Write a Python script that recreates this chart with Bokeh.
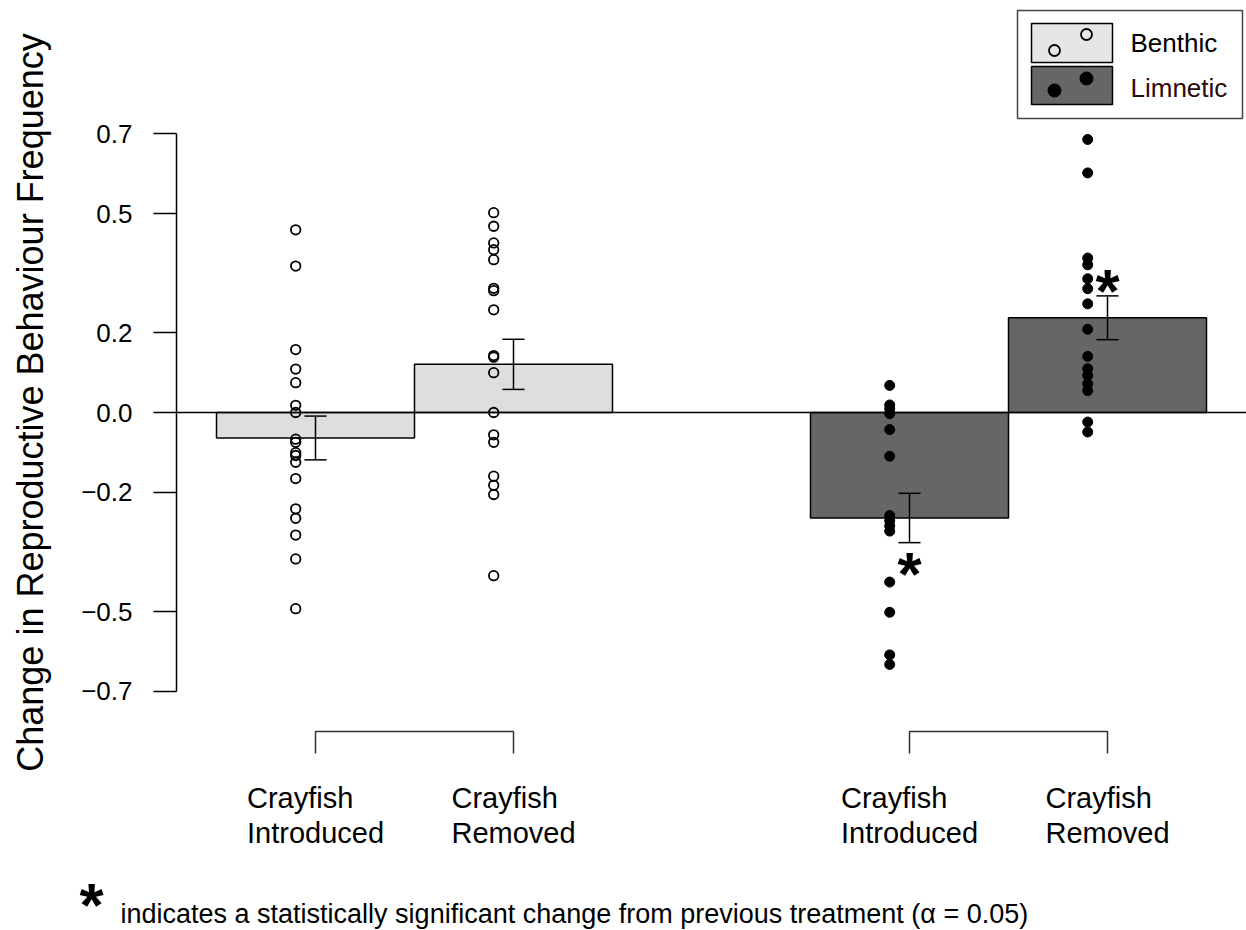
import math
from bokeh.plotting import figure
from bokeh.layouts import row, column
from bokeh.models import FixedTicker, Span, Range1d, CustomJSTickFormatter
from bokeh.core.properties import value
from bokeh.embed import file_html
from bokeh.resources import INLINE

# ---------------- data ----------------
groups = ["Benthic", "Limnetic"]
group_colors = ["#DEDEDE", "#666666"]
treatments = ["Crayfish\nIntroduced", "Crayfish\nRemoved"]

bar_x = [1.5, 2.5, 4.5, 5.5]
bar_group = [0, 0, 1, 1]
means = [-0.064, 0.121, -0.265, 0.238]
ses = [0.055, 0.063, 0.062, 0.055]
significant = [False, False, True, True]

pts_benthic_introduced = [0.459, 0.368, 0.158, 0.109, 0.075, 0.018, 0.0, -0.067, -0.075,
                          -0.101, -0.108, -0.125, -0.166, -0.242, -0.266, -0.308, -0.368, -0.493]
pts_benthic_removed = [0.502, 0.468, 0.426, 0.409, 0.384, 0.312, 0.306, 0.258, 0.143, 0.139,
                       0.100, 0.0, -0.056, -0.075, -0.160, -0.183, -0.206, -0.410]
pts_limnetic_introduced = [0.068, 0.019, 0.009, -0.003, -0.043, -0.110, -0.259, -0.272,
                           -0.285, -0.298, -0.426, -0.502, -0.609, -0.633]
pts_limnetic_removed = [0.686, 0.602, 0.388, 0.371, 0.336, 0.311, 0.273, 0.209, 0.141,
                        0.110, 0.093, 0.072, 0.055, -0.024, -0.049]
points = [pts_benthic_introduced, pts_benthic_removed, pts_limnetic_introduced, pts_limnetic_removed]

y_ticks = [-0.7, -0.5, -0.2, 0.0, 0.2, 0.5, 0.7]
y_tick_labels = ["\u22120.7", "\u22120.5", "\u22120.2", "0.0", "0.2", "0.5", "0.7"]
y_title = "Change in Reproductive Behaviour Frequency"
footnote = "indicates a statistically significant change from previous treatment (\u03b1 = 0.05)"

# ---------------- layout constants ----------------
W, H = 1246, 930
TITLE_W = 60      # width of the strip holding the y title
MAIN_H = 848      # height of the main panel
PX = 398.0        # pixels per y unit
ZERO_PX = 412     # pixel row of y = 0
XPX = 198.0       # pixels per x unit
X0_PX = 18        # page column of x = 0
SPINE = 176       # page column of the y axis
FONT = "Liberation Sans"
STAR_FS = 62
STAR_RISE = 0.17  # star glyph centre above its baseline, in em


def ypx(v):
    return (ZERO_PX - v) / PX


def xpx(v):
    return (v - X0_PX) / XPX


def blank(fig):
    fig.outline_line_color = None
    fig.background_fill_color = "white"
    fig.border_fill_color = "white"
    return fig


# ---------------- title strip ----------------
pt = blank(figure(width=TITLE_W, height=MAIN_H, output_backend="svg", toolbar_location=None, title=None,
                  x_axis_type=None, y_axis_type=None, x_range=Range1d(0, TITLE_W),
                  y_range=Range1d(MAIN_H, 0), min_border=0))
pt.text(x=[30], y=[402], text=[y_title], angle=math.pi / 2, text_font=value(FONT),
        text_font_size="36px", text_align="center", text_baseline="middle", text_color="black")

# ---------------- main panel ----------------
p = blank(figure(width=W - TITLE_W, height=MAIN_H, output_backend="svg", toolbar_location=None, title=None,
                 x_axis_type=None,
                 x_range=Range1d(xpx(SPINE), xpx(W)),
                 y_range=Range1d(ypx(MAIN_H), ypx(0)),
                 min_border_left=SPINE - TITLE_W, min_border_right=0, min_border_top=0, min_border_bottom=0))
p.grid.grid_line_color = None

ax = p.yaxis[0]
ax.ticker = FixedTicker(ticks=y_ticks)
ax.formatter = CustomJSTickFormatter(args=dict(tvals=y_ticks, tlabels=y_tick_labels), code="""
const i = tvals.findIndex(t => Math.abs(t - tick) < 1e-9);
return i >= 0 ? tlabels[i] : '';
""")
ax.bounds = (min(y_ticks), max(y_ticks))
ax.major_tick_out = 23
ax.major_tick_in = 0
ax.minor_tick_out = 0
ax.minor_tick_in = 0
ax.major_label_standoff = 21
ax.major_label_text_font = FONT
ax.major_label_text_font_size = "26px"
ax.major_label_text_color = "black"
ax.axis_line_color = "black"
ax.axis_line_width = 1.5
ax.major_tick_line_color = "black"
ax.major_tick_line_width = 1.5

# bars
p.vbar(x=bar_x, width=1.0, bottom=0, top=means,
       fill_color=[group_colors[g] for g in bar_group], line_color="black", line_width=1.5)

# zero line
p.add_layout(Span(location=0, dimension="width", line_color="black", line_width=1.5))

# points
for bx, g, pts in zip(bar_x, bar_group, points):
    xs = [bx - 0.1] * len(pts)
    if g == 0:
        p.scatter(xs, pts, marker="circle", size=9.5, fill_color=None, line_color="black", line_width=1.8)
    else:
        p.scatter(xs, pts, marker="circle", size=10, fill_color="black", line_color="black", line_width=1)

# error bars
lo = [m - s for m, s in zip(means, ses)]
hi = [m + s for m, s in zip(means, ses)]
cap = 0.056
p.segment(x0=bar_x, y0=lo, x1=bar_x, y1=hi, line_color="black", line_width=1.5)
p.segment(x0=[x - cap for x in bar_x], y0=lo, x1=[x + cap for x in bar_x], y1=lo, line_color="black", line_width=1.5)
p.segment(x0=[x - cap for x in bar_x], y0=hi, x1=[x + cap for x in bar_x], y1=hi, line_color="black", line_width=1.5)

# significance stars
star_shift = STAR_FS * STAR_RISE / PX
sx, sy = [], []
for bx, m, s, sig in zip(bar_x, means, ses, significant):
    if sig:
        center = (m - s - 0.05) if m < 0 else (m + s + 0.04)
        sx.append(bx)
        sy.append(center - star_shift)
p.text(x=sx, y=sy, text=["*"] * len(sx), text_font=value(FONT), text_font_style="bold",
       text_font_size=f"{STAR_FS}px", text_align="center", text_baseline="alphabetic", text_color="black")

# group brackets and treatment labels
br_top, br_bot = ypx(731), ypx(753)
for gi in range(len(groups)):
    cx = [bx for bx, g in zip(bar_x, bar_group) if g == gi]
    p.line(x=[cx[0], cx[0], cx[-1], cx[-1]], y=[br_bot, br_top, br_top, br_bot],
           line_color="#333333", line_width=1.5)
lab_t = [treatments[i % 2] for i in range(len(bar_x))]
p.text(x=bar_x, y=[ypx(781)] * len(bar_x), text=lab_t, text_font=value(FONT),
       text_font_size="29px", anchor="top_center", text_align="left", text_line_height=1.1,
       text_color="black")

# legend (drawn by hand)
p.quad(left=[xpx(1017)], right=[xpx(1242)], bottom=[ypx(118)], top=[ypx(10)],
       fill_color="white", line_color="#444444", line_width=1.5)
sw_top = [ypx(23), ypx(66)]
sw_bot = [ypx(62), ypx(104)]
p.quad(left=[xpx(1031)] * 2, right=[xpx(1112)] * 2, bottom=sw_bot, top=sw_top,
       fill_color=["#E6E6E6", group_colors[1]], line_color="black", line_width=1.5)
p.scatter([xpx(1054), xpx(1086)], [ypx(50), ypx(34)], marker="circle", size=11,
          fill_color=None, line_color="black", line_width=1.8)
p.scatter([xpx(1054), xpx(1086)], [ypx(90), ypx(78)], marker="circle", size=13,
          fill_color="black", line_color="black")
p.text(x=[xpx(1130)] * 2, y=[ypx(42), ypx(87)], text=groups, text_font=value(FONT),
       text_font_size="26px", text_align="left", text_baseline="middle",
       text_color=["black", "#2b0a0a"])

# ---------------- footnote strip ----------------
pf = blank(figure(width=W, height=H - MAIN_H, output_backend="svg", toolbar_location=None,
                  title=None, x_axis_type=None, y_axis_type=None,
                  x_range=Range1d(0, W), y_range=Range1d(H, MAIN_H), min_border=0))
pf.text(x=[91], y=[893 + STAR_FS * STAR_RISE], text=["*"], text_font=value(FONT), text_font_style="bold",
        text_font_size=f"{STAR_FS}px", text_align="center", text_baseline="alphabetic", text_color="black")
pf.text(x=[120], y=[913], text=[footnote], text_font=value(FONT), text_font_size="27px",
        text_align="left", text_baseline="middle", text_color="black")

layout = column(row(pt, p, spacing=0), pf, spacing=0)
open("out.html", "w").write(file_html(layout, INLINE))
